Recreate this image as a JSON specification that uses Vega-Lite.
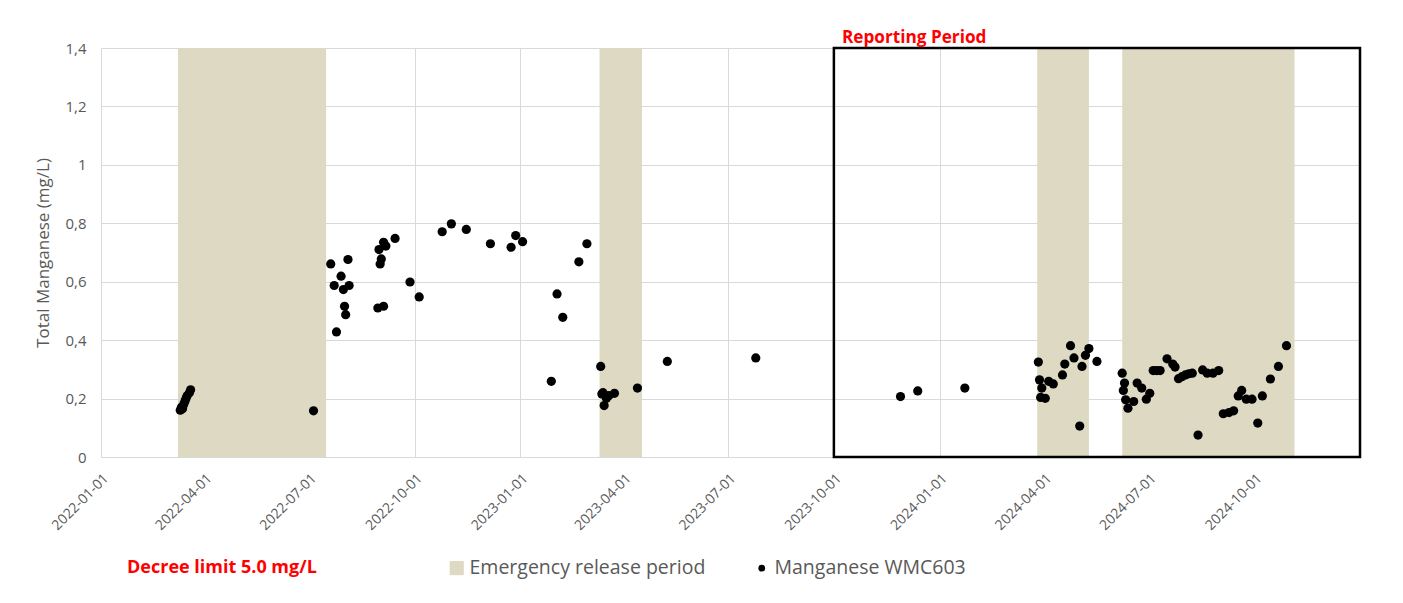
{
  "$schema": "https://vega.github.io/schema/vega-lite/v6.json",
  "width": 1259,
  "height": 409,
  "autosize": {"type": "none"},
  "padding": {"left": 101, "top": 48, "right": 43, "bottom": 146},
  "background": "#ffffff",
  "config": {
    "font": "Open Sans",
    "view": {"stroke": null},
    "axis": {"labelFont": "Open Sans", "titleFont": "Open Sans"},
    "legend": {"labelFont": "Open Sans", "titleFont": "Open Sans"},
    "text": {"font": "Open Sans"}
  },
  "datasets": {
    "periods": [
      {"start": "2022-03-09", "end": "2022-07-16", "series": "Emergency release period"},
      {"start": "2023-03-11", "end": "2023-04-17", "series": "Emergency release period"},
      {"start": "2024-03-26", "end": "2024-05-10", "series": "Emergency release period"},
      {"start": "2024-06-08", "end": "2024-11-05", "series": "Emergency release period"}
    ],
    "reporting": [
      {"start": "2023-10-01", "end": "2025-01-01", "label": "Reporting Period"}
    ],
    "points": [
      {"date": "2022-03-11", "value": 0.16},
      {"date": "2022-03-12", "value": 0.17},
      {"date": "2022-03-13", "value": 0.165},
      {"date": "2022-03-14", "value": 0.18},
      {"date": "2022-03-15", "value": 0.19},
      {"date": "2022-03-16", "value": 0.2},
      {"date": "2022-03-17", "value": 0.21},
      {"date": "2022-03-19", "value": 0.22},
      {"date": "2022-03-20", "value": 0.23},
      {"date": "2022-07-05", "value": 0.158},
      {"date": "2022-07-20", "value": 0.661},
      {"date": "2022-07-23", "value": 0.587},
      {"date": "2022-07-25", "value": 0.428},
      {"date": "2022-07-29", "value": 0.619},
      {"date": "2022-07-31", "value": 0.573},
      {"date": "2022-08-01", "value": 0.516},
      {"date": "2022-08-02", "value": 0.487},
      {"date": "2022-08-04", "value": 0.676},
      {"date": "2022-08-05", "value": 0.587},
      {"date": "2022-08-30", "value": 0.51},
      {"date": "2022-08-31", "value": 0.71},
      {"date": "2022-09-01", "value": 0.661},
      {"date": "2022-09-02", "value": 0.678},
      {"date": "2022-09-04", "value": 0.516},
      {"date": "2022-09-04", "value": 0.735},
      {"date": "2022-09-06", "value": 0.722},
      {"date": "2022-09-14", "value": 0.748},
      {"date": "2022-09-27", "value": 0.599},
      {"date": "2022-10-05", "value": 0.548},
      {"date": "2022-10-25", "value": 0.771},
      {"date": "2022-11-02", "value": 0.798},
      {"date": "2022-11-15", "value": 0.779},
      {"date": "2022-12-06", "value": 0.73},
      {"date": "2022-12-24", "value": 0.718},
      {"date": "2022-12-28", "value": 0.758},
      {"date": "2023-01-03", "value": 0.737},
      {"date": "2023-01-28", "value": 0.259},
      {"date": "2023-02-02", "value": 0.558},
      {"date": "2023-02-07", "value": 0.478},
      {"date": "2023-02-21", "value": 0.668},
      {"date": "2023-02-28", "value": 0.73},
      {"date": "2023-03-12", "value": 0.31},
      {"date": "2023-03-13", "value": 0.216},
      {"date": "2023-03-14", "value": 0.22},
      {"date": "2023-03-15", "value": 0.176},
      {"date": "2023-03-17", "value": 0.201},
      {"date": "2023-03-19", "value": 0.21},
      {"date": "2023-03-24", "value": 0.218},
      {"date": "2023-04-13", "value": 0.236},
      {"date": "2023-05-09", "value": 0.327},
      {"date": "2023-07-25", "value": 0.339},
      {"date": "2023-11-28", "value": 0.207},
      {"date": "2023-12-13", "value": 0.226},
      {"date": "2024-01-23", "value": 0.236},
      {"date": "2024-03-27", "value": 0.325},
      {"date": "2024-03-28", "value": 0.264},
      {"date": "2024-03-29", "value": 0.204},
      {"date": "2024-03-30", "value": 0.236},
      {"date": "2024-04-02", "value": 0.201},
      {"date": "2024-04-05", "value": 0.259},
      {"date": "2024-04-09", "value": 0.25},
      {"date": "2024-04-17", "value": 0.281},
      {"date": "2024-04-19", "value": 0.318},
      {"date": "2024-04-24", "value": 0.381},
      {"date": "2024-04-27", "value": 0.339},
      {"date": "2024-05-02", "value": 0.106},
      {"date": "2024-05-04", "value": 0.31},
      {"date": "2024-05-07", "value": 0.348},
      {"date": "2024-05-10", "value": 0.371},
      {"date": "2024-05-17", "value": 0.327},
      {"date": "2024-06-08", "value": 0.287},
      {"date": "2024-06-09", "value": 0.228},
      {"date": "2024-06-10", "value": 0.253},
      {"date": "2024-06-11", "value": 0.196},
      {"date": "2024-06-13", "value": 0.167},
      {"date": "2024-06-18", "value": 0.19},
      {"date": "2024-06-21", "value": 0.253},
      {"date": "2024-06-25", "value": 0.236},
      {"date": "2024-06-29", "value": 0.198},
      {"date": "2024-07-02", "value": 0.218},
      {"date": "2024-07-05", "value": 0.296},
      {"date": "2024-07-08", "value": 0.296},
      {"date": "2024-07-11", "value": 0.296},
      {"date": "2024-07-17", "value": 0.336},
      {"date": "2024-07-22", "value": 0.318},
      {"date": "2024-07-24", "value": 0.308},
      {"date": "2024-07-27", "value": 0.268},
      {"date": "2024-07-30", "value": 0.275},
      {"date": "2024-08-02", "value": 0.281},
      {"date": "2024-08-05", "value": 0.285},
      {"date": "2024-08-08", "value": 0.287},
      {"date": "2024-08-13", "value": 0.075},
      {"date": "2024-08-17", "value": 0.298},
      {"date": "2024-08-21", "value": 0.287},
      {"date": "2024-08-26", "value": 0.287},
      {"date": "2024-08-31", "value": 0.296},
      {"date": "2024-09-04", "value": 0.148},
      {"date": "2024-09-09", "value": 0.152},
      {"date": "2024-09-13", "value": 0.158},
      {"date": "2024-09-17", "value": 0.209},
      {"date": "2024-09-20", "value": 0.228},
      {"date": "2024-09-24", "value": 0.198},
      {"date": "2024-09-29", "value": 0.198},
      {"date": "2024-10-04", "value": 0.116},
      {"date": "2024-10-08", "value": 0.209},
      {"date": "2024-10-15", "value": 0.267},
      {"date": "2024-10-22", "value": 0.31},
      {"date": "2024-10-29", "value": 0.381}
    ]
  },
  "layer": [
    {
      "data": {"name": "periods"},
      "mark": {"type": "rect"},
      "encoding": {
        "x": {
          "field": "start", "type": "temporal", "title": null,
          "scale": {"type": "utc", "domain": [{"year": 2022, "month": 1, "date": 1, "utc": true}, {"year": 2025, "month": 1, "date": 1, "utc": true}]},
          "axis": {
            "values": [
              {"year": 2022, "month": 1, "date": 1, "utc": true},
              {"year": 2022, "month": 4, "date": 1, "utc": true},
              {"year": 2022, "month": 7, "date": 1, "utc": true},
              {"year": 2022, "month": 10, "date": 1, "utc": true},
              {"year": 2023, "month": 1, "date": 1, "utc": true},
              {"year": 2023, "month": 4, "date": 1, "utc": true},
              {"year": 2023, "month": 7, "date": 1, "utc": true},
              {"year": 2023, "month": 10, "date": 1, "utc": true},
              {"year": 2024, "month": 1, "date": 1, "utc": true},
              {"year": 2024, "month": 4, "date": 1, "utc": true},
              {"year": 2024, "month": 7, "date": 1, "utc": true},
              {"year": 2024, "month": 10, "date": 1, "utc": true}
            ],
            "format": "%Y-%m-%d", "labelAngle": -45, "grid": true, "gridColor": "#D9D9D9",
            "domainColor": "#D9D9D9", "ticks": false, "labelColor": "#595959", "labelFontSize": 14,
            "labelPadding": 14, "labelFlush": false, "labelOverlap": false
          }
        },
        "x2": {"field": "end"},
        "y": {
          "datum": 0, "type": "quantitative", "title": "Total Manganese (mg/L)",
          "scale": {"domain": [0, 1.4], "nice": false},
          "axis": {
            "values": [0, 0.2, 0.4, 0.6, 0.8, 1, 1.2, 1.4],
            "labelExpr": "replace(format(datum.value, '~g'), '.', ',')",
            "grid": true, "gridColor": "#D9D9D9", "domain": false, "ticks": false,
            "labelColor": "#595959", "labelFontSize": 15, "labelPadding": 15,
            "titleColor": "#595959", "titleFontSize": 17, "titleFontWeight": "normal", "titlePadding": 12
          }
        },
        "y2": {"datum": 1.4},
        "color": {
          "field": "series", "type": "nominal",
          "scale": {"domain": ["Emergency release period", "Manganese WMC603"], "range": ["#DDD9C3", "#000000"]},
          "legend": {
            "orient": "none", "legendX": 26, "legendY": 510, "direction": "horizontal",
            "title": "Decree limit 5.0 mg/L", "titleOrient": "left", "titleColor": "#FF0000",
            "titleFontWeight": "bold", "titleFontSize": 18, "titlePadding": 130, "titleBaseline": "middle",
            "titleLimit": 0, "labelLimit": 0,
            "labelFontSize": 19.5, "labelColor": "#595959", "labelOffset": 3, "columnPadding": 46,
            "symbolStrokeWidth": 0,
            "encode": {
              "symbols": {
                "update": {
                  "shape": {"signal": "datum.value === 'Manganese WMC603' ? 'circle' : 'square'"},
                  "size": {"signal": "datum.value === 'Manganese WMC603' ? 45 : 200"},
                  "strokeWidth": {"value": 0},
                  "opacity": {"value": 1}
                }
              }
            }
          }
        }
      }
    },
    {
      "data": {"name": "reporting"},
      "mark": {"type": "rect", "fill": null, "filled": false, "stroke": "#000000", "strokeWidth": 2.5},
      "encoding": {
        "x": {"field": "start", "type": "temporal", "title": null},
        "x2": {"field": "end"},
        "y": {"datum": 0, "type": "quantitative", "title": "Total Manganese (mg/L)"},
        "y2": {"datum": 1.4}
      }
    },
    {
      "data": {"name": "reporting"},
      "mark": {"type": "text", "align": "left", "baseline": "alphabetic", "dx": 8, "dy": -5, "fontSize": 17.2, "fontWeight": "bold", "color": "#FF0000"},
      "encoding": {
        "x": {"field": "start", "type": "temporal", "title": null},
        "y": {"datum": 1.4, "type": "quantitative", "title": "Total Manganese (mg/L)"},
        "text": {"field": "label"}
      }
    },
    {
      "data": {"name": "points"},
      "transform": [{"calculate": "'Manganese WMC603'", "as": "series"}],
      "mark": {"type": "circle", "size": 85, "opacity": 1},
      "encoding": {
        "x": {"field": "date", "type": "temporal", "title": null},
        "y": {"field": "value", "type": "quantitative", "title": "Total Manganese (mg/L)"},
        "color": {"field": "series", "type": "nominal"}
      }
    }
  ]
}
